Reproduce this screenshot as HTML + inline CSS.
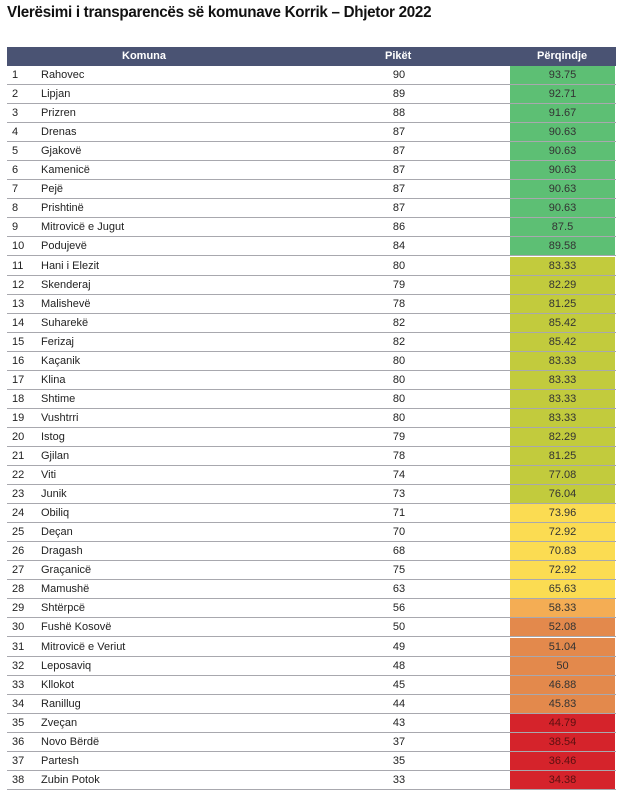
<!DOCTYPE html>
<html><head><meta charset="utf-8"><style>
body{margin:0;width:624px;height:800px;background:#fff;font-family:"Liberation Sans",sans-serif;position:relative;overflow:hidden}
.t{position:absolute;left:7px;top:4px;font-size:15.5px;font-weight:bold;color:#111;letter-spacing:-0.3px;transform:scaleX(0.98);transform-origin:left}
.h{position:absolute;left:7px;top:47px;width:609px;height:19px;background:#4a5373;color:#fff;font-size:11px;font-weight:bold}
.h span,.r span{position:absolute;top:0;line-height:19px}
.r{position:absolute;left:7px;width:609px;height:19px;border-bottom:1px solid #a8a8ae;box-sizing:border-box;font-size:11px;color:#222}
.p{position:absolute;left:503px;width:105px;height:18px;text-align:center;line-height:19px;color:#333}
</style></head><body>
<div class="t">Vlerësimi i transparencës së komunave Korrik – Dhjetor 2022</div>
<div class="h"><span style="left:115px">Komuna</span><span style="left:378px">Pikët</span><span style="left:530px">Përqindje</span></div>
<div id="rows"></div>
<script>
(function(){
var d=[["Rahovec",90,"93.75"],["Lipjan",89,"92.71"],["Prizren",88,"91.67"],["Drenas",87,"90.63"],["Gjakovë",87,"90.63"],["Kamenicë",87,"90.63"],["Pejë",87,"90.63"],["Prishtinë",87,"90.63"],["Mitrovicë e Jugut",86,"87.5"],["Podujevë",84,"89.58"],["Hani i Elezit",80,"83.33"],["Skenderaj",79,"82.29"],["Malishevë",78,"81.25"],["Suharekë",82,"85.42"],["Ferizaj",82,"85.42"],["Kaçanik",80,"83.33"],["Klina",80,"83.33"],["Shtime",80,"83.33"],["Vushtrri",80,"83.33"],["Istog",79,"82.29"],["Gjilan",78,"81.25"],["Viti",74,"77.08"],["Junik",73,"76.04"],["Obiliq",71,"73.96"],["Deçan",70,"72.92"],["Dragash",68,"70.83"],["Graçanicë",75,"72.92"],["Mamushë",63,"65.63"],["Shtërpcë",56,"58.33"],["Fushë Kosovë",50,"52.08"],["Mitrovicë e Veriut",49,"51.04"],["Leposaviq",48,"50"],["Kllokot",45,"46.88"],["Ranillug",44,"45.83"],["Zveçan",43,"44.79"],["Novo Bërdë",37,"38.54"],["Partesh",35,"36.46"],["Zubin Potok",33,"34.38"]];
var h="";
for(var i=0;i<d.length;i++){
var c=i<10?"#5dbf74":i<23?"#c2cb3d":i<28?"#fbdc52":i==28?"#f4ad54":i<34?"#e3894c":"#d5232b";
var tc=i>=34?"#5a1010":"#333";
var ty=(66+i*19.05).toFixed(2);
h+='<div class="r" style="top:'+ty+'px"><span style="left:5px">'+(i+1)+'</span><span style="left:34px">'+d[i][0]+'</span><span style="left:382px;width:20px;text-align:center">'+d[i][1]+'</span><div class="p" style="background:'+c+';color:'+tc+'">'+d[i][2]+'</div></div>';
}
document.getElementById("rows").innerHTML=h;
})();
</script>
</body></html>
